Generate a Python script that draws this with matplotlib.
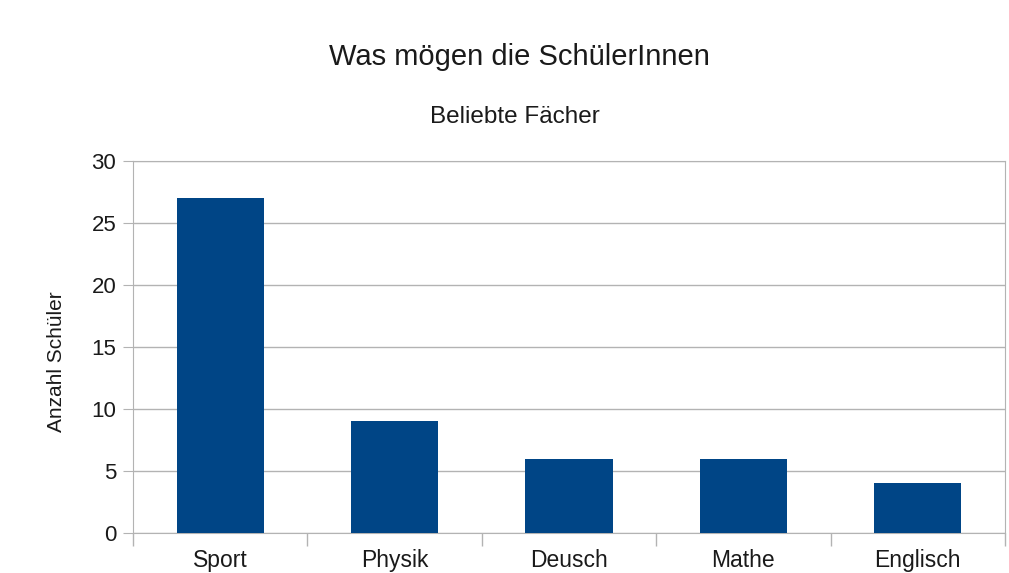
import matplotlib
matplotlib.use('Agg')
import matplotlib.pyplot as plt
import numpy as np

categories = ['Sport', 'Physik', 'Deusch', 'Mathe', 'Englisch']
values = [27, 9, 6, 6, 4]
y_ticks = [0, 5, 10, 15, 20, 25, 30]

plt.rcParams['font.family'] = ['Liberation Sans', 'DejaVu Sans']

W, H = 1009, 573
fig = plt.figure(figsize=(W / 100, H / 100), dpi=100)
ax = fig.add_axes([133 / W, 1 - 533 / H, 872 / W, 372 / H])

x = np.arange(len(categories))
ax.bar(x, values, width=0.5, color='#004586', zorder=3)
ax.set_xlim(-0.5, len(categories) - 0.5)
ax.set_ylim(0, 30)
ax.set_yticks(y_ticks)
# category boundaries carry the tick marks, labels sit in the middle
ax.set_xticks(np.arange(-0.5, len(categories)), labels=[''] * (len(categories) + 1))
ax.set_xticks(x, labels=categories, minor=True)
ax.tick_params(axis='x', which='minor', length=0, labelsize=16.5, pad=11.5, labelcolor='#1a1a1a')
ax.tick_params(axis='x', which='major', length=9, color='#b3b3b3', width=1)
ax.tick_params(axis='y', length=7, color='#b3b3b3', labelsize=16, pad=5, labelcolor='#1a1a1a')
ax.grid(axis='y', color='#b3b3b3', linewidth=1, zorder=0)
for s in ax.spines.values():
    s.set_color('#b3b3b3')

fig.text(56 / W, 1 - 362 / H, 'Anzahl Schüler', rotation=90, ha='center', va='center',
         fontsize=15, color='#1a1a1a')
fig.text(519 / W, 1 - 57 / H, 'Was mögen die SchülerInnen', ha='center', va='center',
         fontsize=21, color='#1a1a1a')
fig.text(515 / W, 1 - 117 / H, 'Beliebte Fächer', ha='center', va='center',
         fontsize=17.5, color='#1a1a1a')

fig.savefig('out.png', dpi=100)
